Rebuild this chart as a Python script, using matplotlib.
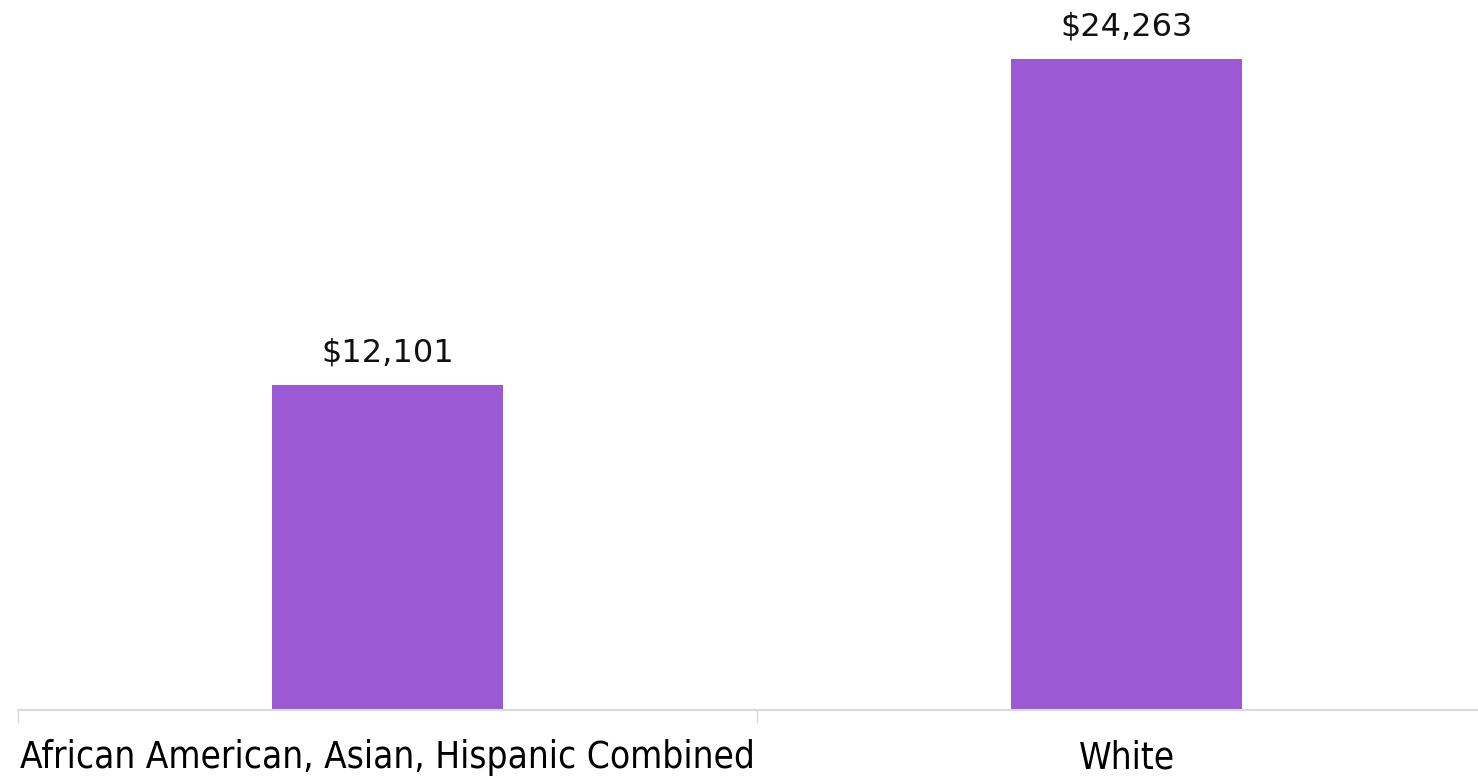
import matplotlib.pyplot as plt

categories = ["African American, Asian, Hispanic Combined", "White"]
values = [12101, 24263]
labels = ["$12,101", "$24,263"]

W, H = 1478, 777
fig = plt.figure(figsize=(W / 100, H / 100), dpi=100)
# axes runs a bit past the right edge like the original crop
ax = fig.add_axes([18 / W, 67 / H, 1478 / W, 697.6 / H])

x = range(len(categories))
bars = ax.bar(x, values, width=0.3125, color="#9b59d4")
ax.set_xlim(-0.5, 1.5)
ax.set_ylim(0, 26000)

for b, lab in zip(bars, labels):
    ax.annotate(lab, (b.get_x() + b.get_width() / 2, b.get_height()),
                xytext=(0, 12), textcoords="offset points",
                ha="center", va="bottom", fontsize=23, color="#111111",
                family="DejaVu Sans")

for s in ["top", "right", "left"]:
    ax.spines[s].set_visible(False)
ax.spines["bottom"].set_color("#d9d9d9")
ax.spines["bottom"].set_linewidth(1.5)
ax.set_yticks([])
ax.set_xticks([-0.5, 0.5, 1.5], minor=False)
ax.set_xticklabels([])
ax.tick_params(axis="x", length=9, color="#d9d9d9", width=1)
ax.set_xticks(list(x), minor=True)
ax.set_xticklabels(categories, minor=True, fontsize=26.5, family="DejaVu Sans",
                   fontstretch="condensed")
ax.tick_params(axis="x", which="minor", length=0, pad=21)

fig.savefig("out.png", dpi=100)
